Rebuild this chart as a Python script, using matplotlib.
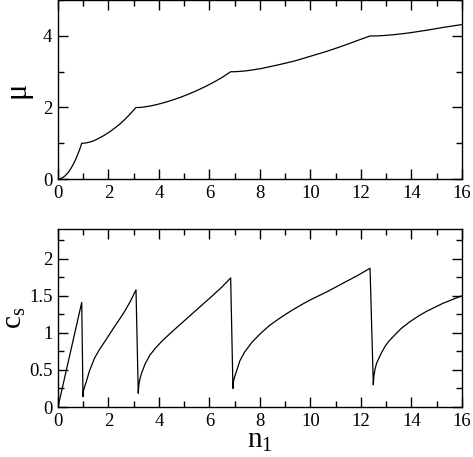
import matplotlib
matplotlib.use('Agg')
import matplotlib.pyplot as plt
from matplotlib.ticker import MultipleLocator

plt.rcParams['font.family'] = ['Liberation Serif', 'DejaVu Serif']
plt.rcParams['mathtext.fontset'] = 'custom'
plt.rcParams['mathtext.rm'] = 'Liberation Serif'
plt.rcParams['mathtext.it'] = 'Liberation Serif'

# chemical potential mu(n1)
n_mu = [0.0, 0.1, 0.2, 0.3, 0.4, 0.5, 0.6, 0.7, 0.8, 0.88, 0.94, 0.99, 1.12, 1.3,
        1.45, 1.65, 1.85, 2.05, 2.24, 2.44, 2.64, 2.86, 3.09,
        3.18, 3.31, 3.64, 3.9, 4.17, 4.5, 4.83, 5.16, 5.49, 5.82, 6.15, 6.5, 6.84,
        6.93, 7.06, 7.39, 7.7, 8.05, 8.38, 8.71, 9.04, 9.37, 9.7, 10.03, 10.36,
        10.69, 11.02, 11.35, 11.85, 12.36, 12.49, 12.62, 12.95, 13.28,
        13.6, 13.94, 14.27, 14.60, 14.93, 15.26, 15.63, 16.0]
mu = [0.0, 0.011, 0.045, 0.10, 0.18, 0.28, 0.405, 0.55, 0.72, 0.87, 1.0, 1.0,
      1.01, 1.04, 1.08, 1.15, 1.23, 1.32, 1.42, 1.53, 1.66, 1.82, 2.0,
      2.0, 2.005, 2.04, 2.08, 2.13, 2.20, 2.28, 2.37, 2.47, 2.58, 2.70, 2.84, 3.0,
      3.0, 3.003, 3.02, 3.05, 3.09, 3.14, 3.19, 3.245, 3.30, 3.37, 3.44, 3.51,
      3.58, 3.66, 3.74, 3.87, 4.0, 4.0, 4.002, 4.015, 4.035,
      4.06, 4.09, 4.125, 4.16, 4.20, 4.24, 4.28, 4.32]

# sound velocity c_s(n1)
n_cs = [0.0, 0.94, 0.99, 1.01, 1.05, 1.12, 1.25, 1.45, 1.65, 1.85, 2.05, 2.24,
        2.44, 2.64, 2.86, 3.09,
        3.18, 3.20, 3.24, 3.31, 3.45, 3.64, 3.9, 4.17, 4.5, 4.83, 5.16, 5.49,
        5.82, 6.15, 6.5, 6.84,
        6.93, 6.95, 6.99, 7.06, 7.2, 7.39, 7.7, 8.05, 8.38, 8.71, 9.04, 9.37,
        9.7, 10.03, 10.36, 10.69, 11.02, 11.35, 11.85, 12.36,
        12.49, 12.51, 12.55, 12.62, 12.78, 12.95, 13.1, 13.28, 13.6, 13.94,
        14.27, 14.60, 14.93, 15.26, 15.63, 16.0]
cs = [0.0, 1.41, 0.14, 0.22, 0.27, 0.34, 0.49, 0.66, 0.78, 0.88, 0.985, 1.085,
      1.185, 1.29, 1.42, 1.58,
      0.185, 0.29, 0.37, 0.455, 0.58, 0.70, 0.81, 0.905, 1.01, 1.11, 1.21, 1.31,
      1.41, 1.51, 1.62, 1.74,
      0.25, 0.34, 0.40, 0.47, 0.62, 0.74, 0.88, 1.00, 1.10, 1.18, 1.255, 1.325,
      1.39, 1.45, 1.505, 1.56, 1.62, 1.68, 1.77, 1.87,
      0.30, 0.41, 0.50, 0.59, 0.71, 0.815, 0.885, 0.95, 1.06, 1.15,
      1.225, 1.29, 1.345, 1.40, 1.45, 1.50]

fig = plt.figure(figsize=(4.73, 4.57), dpi=100)
ax1 = fig.add_axes([0.1226, 0.6083, 0.854, 0.3912])
ax2 = fig.add_axes([0.1226, 0.1094, 0.854, 0.3895])

ax1.plot(n_mu, mu, color='black', lw=0.9)
ax2.plot(n_cs, cs, color='black', lw=0.9)

ax1.set_xlim(0, 16)
ax1.set_ylim(0, 5)
ax2.set_xlim(0, 16)
ax2.set_ylim(0, 2.4)

ax1.xaxis.set_major_locator(MultipleLocator(2))
ax1.xaxis.set_minor_locator(MultipleLocator(1))
ax1.yaxis.set_major_locator(MultipleLocator(2))
ax1.yaxis.set_minor_locator(MultipleLocator(1))
ax2.xaxis.set_major_locator(MultipleLocator(2))
ax2.xaxis.set_minor_locator(MultipleLocator(1))
ax2.yaxis.set_major_locator(MultipleLocator(0.5))
ax2.yaxis.set_minor_locator(MultipleLocator(0.25))
ax2.set_yticks([0, 0.5, 1, 1.5, 2])
ax2.set_yticklabels(['0', '0.5', '1', '1.5', '2'])

for ax in (ax1, ax2):
    ax.tick_params(which='both', direction='in', top=True, right=True,
                   labelsize=13.5, width=1, pad=4)
    ax.tick_params(which='major', length=7)
    ax.tick_params(which='minor', length=4)
    for s in ax.spines.values():
        s.set_linewidth(1)

ax1.set_ylabel('μ', fontsize=22, labelpad=8)
ax2.set_ylabel(r'$\mathregular{c_s}$', fontsize=21, labelpad=1)
ax2.set_xlabel(r'$\mathregular{n_1}$', fontsize=21, labelpad=-1)

fig.savefig('out.png', dpi=100)
